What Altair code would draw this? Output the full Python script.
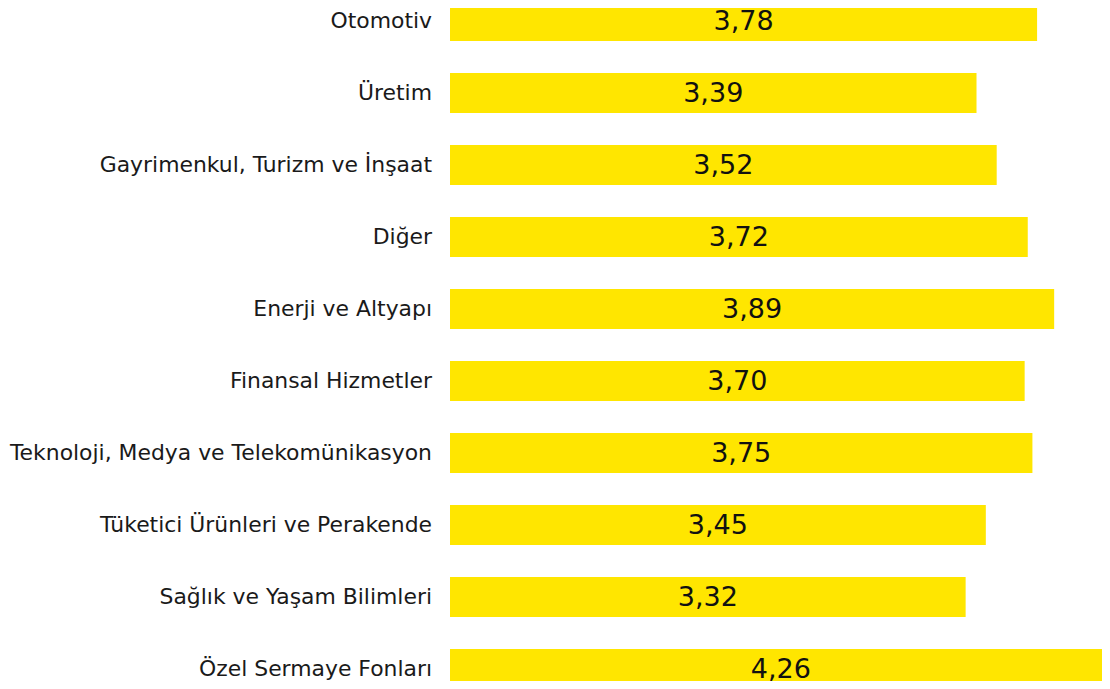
import altair as alt
import pandas as pd

categories = [
    "Otomotiv",
    "Üretim",
    "Gayrimenkul, Turizm ve İnşaat",
    "Diğer",
    "Enerji ve Altyapı",
    "Finansal Hizmetler",
    "Teknoloji, Medya ve Telekomünikasyon",
    "Tüketici Ürünleri ve Perakende",
    "Sağlık ve Yaşam Bilimleri",
    "Özel Sermaye Fonları",
]
values = [3.78, 3.39, 3.52, 3.72, 3.89, 3.70, 3.75, 3.45, 3.32, 4.26]
value_labels = ["3,78", "3,39", "3,52", "3,72", "3,89", "3,70", "3,75", "3,45", "3,32", "4,26"]

df = pd.DataFrame({"cat": categories, "val": values, "lab": value_labels})

XMAX = 4.198  # plot width 652 px -> ~155.3 px per unit

ycat = alt.Y("cat:N", sort=categories, axis=None,
             scale=alt.Scale(paddingInner=0.444, paddingOuter=0.222))
xscale = alt.Scale(domain=[0, XMAX], nice=False, zero=True)

base = alt.Chart(df)

bars = base.mark_bar(color="#FFE600").encode(
    y=ycat, x=alt.X("val:Q", axis=None, scale=xscale)
)

vals = base.transform_calculate(mid="datum.val / 2").mark_text(
    font="DejaVu Sans", fontSize=27, color="#111111", baseline="middle", align="center", dy=1
).encode(
    y=ycat,
    x=alt.X("mid:Q", axis=None, scale=xscale),
    text="lab:N",
)

cats = base.mark_text(
    font="DejaVu Sans", fontSize=21.9, color="#1a1a1a", baseline="middle", align="right", dx=-18
).encode(y=ycat, x=alt.value(0), text="cat:N")

chart = alt.layer(bars, vals, cats).properties(
    width=652,
    height=720,
    padding={"left": 442, "top": -23, "right": 0, "bottom": -24},
    autosize=alt.AutoSizeParams(type="none"),
    background="white",
).configure_view(strokeWidth=0)

chart.save("out.html", embed_options={"renderer": "svg", "actions": False})
